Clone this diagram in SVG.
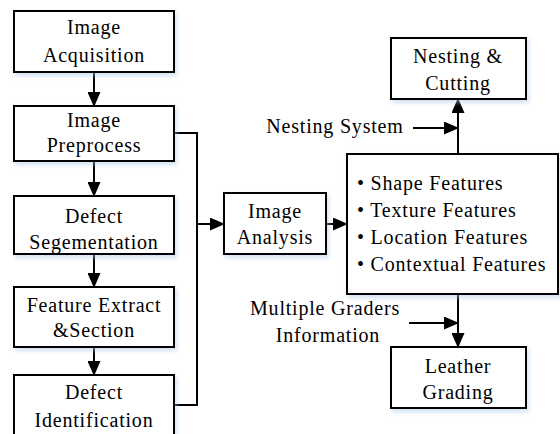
<svg xmlns="http://www.w3.org/2000/svg" width="560" height="434" viewBox="0 0 560 434" font-family="Liberation Serif" font-size="20">
<style>
.box{fill:#fff;stroke:#000;stroke-width:2;filter:url(#sh)}
.t{letter-spacing:0.8px;fill:#000}
.c{text-anchor:middle}
.ln{fill:none;stroke:#000;stroke-width:2}
.ar{marker-end:url(#ah)}
</style>
<defs>
<marker id="ah" markerUnits="userSpaceOnUse" markerWidth="15" markerHeight="13" refX="14" refY="6.5" orient="auto">
<path d="M0,0 L15,6.5 L0,13 z" fill="#000"/>
</marker>
<filter id="sh" x="-10%" y="-10%" width="125%" height="130%">
<feDropShadow dx="2" dy="3" stdDeviation="2" flood-color="#a8c4e6" flood-opacity="0.5"/>
</filter>
</defs>
<g id="connectors">
<line class="ln ar" x1="94" y1="72" x2="94" y2="106"/>
<line class="ln ar" x1="94" y1="161" x2="94" y2="196"/>
<line class="ln ar" x1="94" y1="254" x2="94" y2="287"/>
<line class="ln ar" x1="94" y1="347" x2="94" y2="375"/>
<polyline class="ln" points="174,133 197,133 197,405 174,405"/>
<line class="ln ar" x1="197" y1="224" x2="224" y2="224"/>
<line class="ln ar" x1="326" y1="224" x2="347" y2="224"/>
<line class="ln ar" x1="458" y1="154" x2="458" y2="99"/>
<line class="ln ar" x1="413" y1="128" x2="458" y2="128"/>
<line class="ln ar" x1="458" y1="294" x2="458" y2="347"/>
<line class="ln ar" x1="409" y1="323" x2="458" y2="323"/>
</g>
<g id="acquisition">
<rect class="box" x="14" y="11" width="160" height="61"/>
<text class="t c" x="94" y="34">Image</text>
<text class="t c" x="94" y="62">Acquisition</text>
</g>
<g id="preprocess">
<rect class="box" x="14" y="106" width="160" height="55"/>
<text class="t c" x="94" y="127">Image</text>
<text class="t c" x="94" y="152">Preprocess</text>
</g>
<g id="segmentation">
<rect class="box" x="14" y="196" width="160" height="58"/>
<text class="t c" x="94" y="223">Defect</text>
<text class="t c" x="94" y="249">Segementation</text>
</g>
<g id="feature">
<rect class="box" x="14" y="287" width="160" height="60"/>
<text class="t c" x="94" y="312">Feature Extract</text>
<text class="t c" x="94" y="337">&amp;Section</text>
</g>
<g id="identification">
<rect class="box" x="14" y="375" width="160" height="70"/>
<text class="t c" x="94" y="399">Defect</text>
<text class="t c" x="94" y="427">Identification</text>
</g>
<g id="analysis">
<rect class="box" x="224" y="193" width="102" height="61"/>
<text class="t c" x="275" y="218">Image</text>
<text class="t c" x="275" y="244">Analysis</text>
</g>
<g id="features">
<rect class="box" x="347" y="154" width="211" height="140"/>
<text class="t" x="357" y="190">• Shape Features</text>
<text class="t" x="357" y="217">• Texture Features</text>
<text class="t" x="357" y="244">• Location Features</text>
<text class="t" x="357" y="271">• Contextual Features</text>
</g>
<g id="nesting">
<rect class="box" x="391" y="38" width="135" height="61"/>
<text class="t c" x="458" y="63">Nesting &amp;</text>
<text class="t c" x="458" y="90">Cutting</text>
</g>
<g id="grading">
<rect class="box" x="391" y="347" width="135" height="61"/>
<text class="t c" x="458" y="373">Leather</text>
<text class="t c" x="458" y="399">Grading</text>
</g>
<g id="labels">
<text class="t c" x="335" y="133">Nesting System</text>
<text class="t c" x="325" y="315">Multiple Graders</text>
<text class="t c" x="328" y="342">Information</text>
</g>
</svg>
